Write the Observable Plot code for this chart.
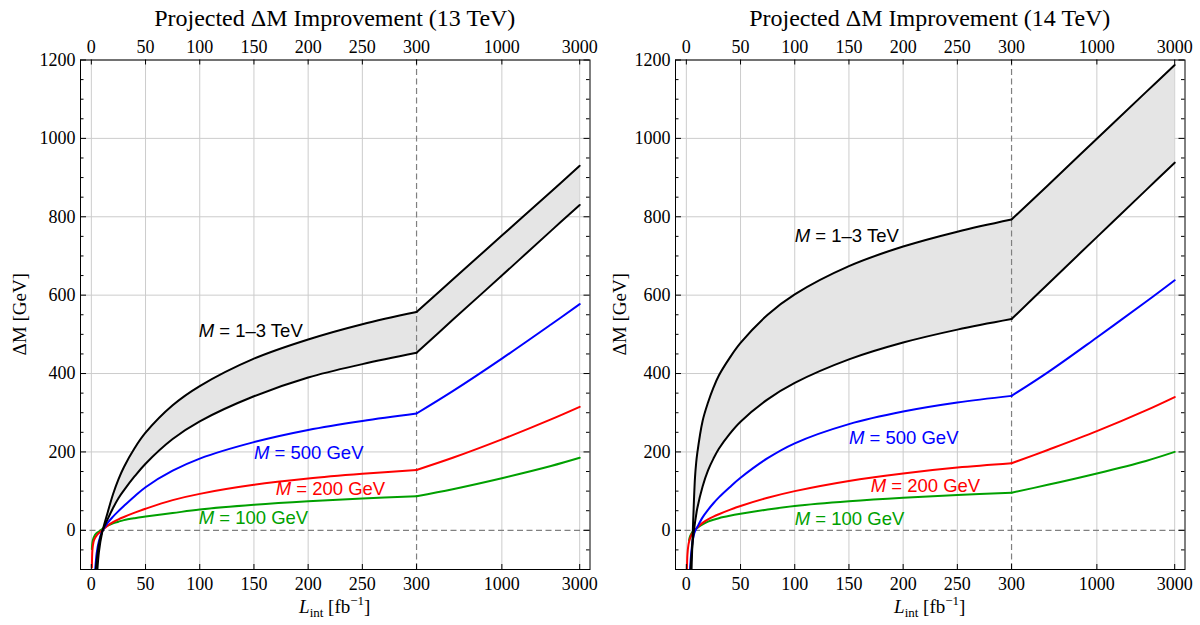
<!DOCTYPE html>
<html><head><meta charset="utf-8">
<script src="https://cdn.jsdelivr.net/npm/d3@7"></script>
<script src="https://cdn.jsdelivr.net/npm/@observablehq/plot@0.6"></script>
<style>
body{margin:0;background:#fff;}
#wrap{display:flex;width:1200px;height:625px;overflow:hidden;}
</style></head><body><div id="wrap"></div>
<script>
// ---------- data ----------
const lumi = [0.5, 1, 2, 2.5, 3, 4, 5, 6, 7, 8, 9, 10, 15, 20, 25, 30, 40, 50, 75, 100, 150, 200, 250, 300, 500, 1000, 2000, 3000];

// 13 TeV
const upper13 = [null, null, null, null, -260, -185, -125, null, -55, null, null, -5, 45, 92, 130, 161, 210, 249, 319, 368, 438, 487, 526, 557, 640, 752, 864, 930];
const lower13 = [null, null, null, null, -150, -105, -75, null, -35, null, null, -3, 28, 57, 82, 102, 138, 170, 233, 278, 342, 390, 424, 453, 537, 650, 764, 830];
const blue13  = [null, null, null, null, -125, -85, -57, null, -27, null, null, -3, 19, 35, 49, 62, 87, 110, 152, 183, 225, 256, 279, 298, 355, 438, 525, 577];
const red13   = [-95, -50, -30, null, -22, -17, -13, null, -7, null, null, 0, 12, 21, 28, 34, 45, 55, 77, 93, 116, 132, 144, 154, 185, 232, 283, 315];
const green13 = [-48, -31, -20, null, -14, -10, -7, null, -3, null, null, 3, 12, 18, 22, 26, 31, 35, 44, 53, 65, 74, 81, 87, 105, 133, 164, 185];

// 14 TeV
const upper14 = [null, null, null, null, -320, -180, -80, 0, 75, 135, 170, 195, 279, 326, 364, 395, 440, 478, 550, 602, 674, 724, 762, 793, 880, 999, 1118, 1187];
const lower14 = [null, null, null, null, -150, -95, -55, -25, 0, 20, 38, 55, 112, 153, 183, 208, 246, 277, 334, 376, 436, 479, 512, 539, 628, 748, 868, 938];
const blue14  = [null, null, null, null, -125, -75, -45, -24, -11, -3, 3, 8, 33, 52, 69, 84, 110, 134, 184, 222, 271, 303, 326, 343, 403, 492, 583, 638];
const red14   = [-105, -62, -36, null, -24, -16, -10, -6, -2, 1, 4, 7, 19, 28, 35, 41, 52, 62, 83, 100, 126, 145, 160, 171, 205, 253, 306, 340];
const green14 = [null, null, null, -26, -19, -12, -7, -3, 0, 2, 4, 6, 15, 22, 27, 31, 37, 42, 53, 62, 74, 83, 90, 96, 116, 145, 177, 200];

// axes
const xTickValues = [0, 50, 100, 150, 200, 250, 300, 1000, 3000];
const yTickValues = [0, 200, 400, 600, 800, 1000, 1200];
const yMinorValues = [-100, -50, 50, 100, 150, 250, 300, 350, 450, 500, 550, 650, 700, 750, 850, 900, 950, 1050, 1100, 1150];

// annotations
const labelTexts = ["M = 1\u20133 TeV", "M = 500 GeV", "M = 200 GeV", "M = 100 GeV"];
const labelL13 = [99, 150, 170, 99];
const labelV13 = [509, 197, 105, 31];
const labelL14 = [100, 150, 170, 100];
const labelV14 = [751, 236, 113, 29];

// ---------- drawing ----------
const SERIF = "'Liberation Serif','Times New Roman',serif";
const SANS = "'Liberation Sans',Arial,sans-serif";
const COLORS = ["#000000", "#0000ff", "#ff0000", "#00a000"];
const u = L => L <= 300 ? L : 300 + 150.5 * Math.log10(L / 300);
const uInv = x => x <= 300 ? x : 300 * Math.pow(10, (x - 300) / 150.5);

function segRows(vals) {
  const out = [];
  lumi.forEach((L, i) => {
    const v = vals[i];
    if (v == null) return;
    if (L <= 300) out.push({u: u(L), v, seg: 0});
    if (L >= 300) out.push({u: u(L), v, seg: 1});
  });
  return out;
}
function bandRows(lo, hi) {
  const out = [];
  lumi.forEach((L, i) => {
    if (lo[i] == null || hi[i] == null) return;
    if (L <= 300) out.push({u: u(L), lo: lo[i], hi: hi[i], seg: 0});
    if (L >= 300) out.push({u: u(L), lo: lo[i], hi: hi[i], seg: 1});
  });
  return out;
}

function panel(title, upper, lower, blue, red, green, labL, labV, mL, mR) {
  const width = 600, height = 625, mT = 59.5, mB = 56;
  const W = width - mL - mR, H = height - mT - mB;
  const CURVE = "catmull-rom";
  const lineOpts = (c) => ({x: "u", y: "v", z: "seg", stroke: c, strokeWidth: 2, curve: CURVE, clip: true});
  const dash = {stroke: "#808080", strokeWidth: 1.2, strokeDasharray: "6,3.5"};
  const labels = labelTexts.map((t, i) => ({t, x: u(labL[i]), y: labV[i], c: COLORS[i]}));
  const svg = Plot.plot({
    width, height, marginTop: mT, marginBottom: mB, marginLeft: mL, marginRight: mR,
    x: {domain: [-10, 460], label: null},
    y: {domain: [-100, 1200], label: null},
    style: {fontFamily: SERIF, fontSize: "18px", color: "black", background: "white"},
    marks: [
      Plot.ruleX(xTickValues.filter(t => t !== 300).map(u), {stroke: "#cccccc", strokeWidth: 1}),
      Plot.ruleY(yTickValues.filter(t => t !== 0), {stroke: "#cccccc", strokeWidth: 1}),
      Plot.areaY(bandRows(lower, upper), {x: "u", y1: "lo", y2: "hi", z: "seg", fill: "#e5e5e5", curve: CURVE, clip: true}),
      Plot.ruleX([300], dash),
      Plot.ruleY([0], dash),
      Plot.line(segRows(green), lineOpts(COLORS[3])),
      Plot.line(segRows(red), lineOpts(COLORS[2])),
      Plot.line(segRows(blue), lineOpts(COLORS[1])),
      Plot.line(segRows(lower), lineOpts(COLORS[0])),
      Plot.line(segRows(upper), lineOpts(COLORS[0])),
      Plot.text(labels, {x: "x", y: "y", text: "t", fill: d => d.c, textAnchor: "start", fontSize: 18.5, fontFamily: SANS}),
      // inward ticks
      Plot.tickY(yTickValues, {y: d => d, insetRight: W - 6, stroke: "black"}),
      Plot.tickY(yTickValues, {y: d => d, insetLeft: W - 6, stroke: "black"}),
      Plot.tickY(yMinorValues, {y: d => d, insetRight: W - 3.5, stroke: "black"}),
      Plot.tickY(yMinorValues, {y: d => d, insetLeft: W - 3.5, stroke: "black"}),
      Plot.tickX(xTickValues.map(u), {x: d => d, insetBottom: H - 5, stroke: "black"}),
      Plot.tickX(xTickValues.map(u), {x: d => d, insetTop: H - 5, stroke: "black"}),
      Plot.axisX(xTickValues.map(u), {anchor: "top", tickSize: 0, tickPadding: 7, label: null, fontSize: 18, tickFormat: d => String(Math.round(uInv(d)))}),
      Plot.axisX(xTickValues.map(u), {anchor: "bottom", tickSize: 0, tickPadding: 8, label: null, fontSize: 18, tickFormat: d => String(Math.round(uInv(d)))}),
      Plot.axisY(yTickValues, {anchor: "left", tickSize: 0, tickPadding: 5, label: null, fontSize: 18, tickFormat: d => String(d)}),
      Plot.frame({stroke: "black", strokeWidth: 1})
    ]
  });
  const s = d3.select(svg);
  // italic M in labels
  s.selectAll('g[aria-label="text"] text').each(function() {
    const txt = this.textContent;
    this.textContent = "";
    d3.select(this).append("tspan").attr("font-style", "italic").text(txt.slice(0, 1));
    d3.select(this).append("tspan").text(txt.slice(1));
  });
  s.append("text").attr("x", mL + W / 2).attr("y", 26).attr("text-anchor", "middle")
    .attr("font-family", SERIF).attr("font-size", 24).attr("fill", "black").text(title);
  s.append("text").attr("transform", `translate(22,${mT + H / 2}) rotate(-90)`).attr("text-anchor", "middle")
    .attr("dominant-baseline", "middle").attr("font-family", SERIF).attr("font-size", 19).attr("fill", "black")
    .text("\u0394M [GeV]");
  const xl = s.append("text").attr("x", mL + W / 2).attr("y", 613).attr("text-anchor", "middle")
    .attr("font-family", SERIF).attr("font-size", 19).attr("fill", "black");
  xl.append("tspan").attr("font-style", "italic").text("L");
  xl.append("tspan").attr("font-size", 13).attr("dy", 4).text("int");
  xl.append("tspan").attr("dy", -4).text(" [fb");
  xl.append("tspan").attr("font-size", 13).attr("dy", -8).text("\u22121");
  xl.append("tspan").attr("dy", 8).text("]");
  return svg;
}

const wrap = document.getElementById("wrap");
wrap.appendChild(panel("Projected \u0394M Improvement (13 TeV)", upper13, lower13, blue13, red13, green13, labelL13, labelV13, 80, 10.5));
wrap.appendChild(panel("Projected \u0394M Improvement (14 TeV)", upper14, lower14, blue14, red14, green14, labelL14, labelV14, 75, 15.5));
</script>
</body></html>
